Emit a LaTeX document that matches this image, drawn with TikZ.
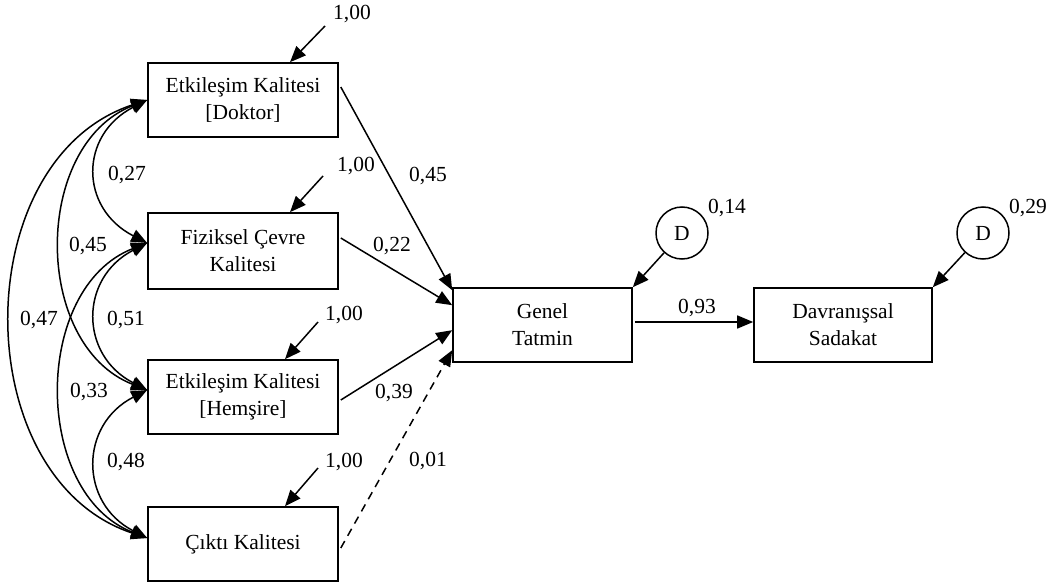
\documentclass[tikz,border=0pt]{standalone}
\usepackage{fontspec}
\setmainfont{Liberation Serif}
\usetikzlibrary{arrows.meta,calc}
\begin{document}
\begin{tikzpicture}[x=1pt,y=-1pt,
  box/.style={draw, line width=1.6pt, rectangle, inner sep=0pt, minimum width=190pt, minimum height=74pt, align=center, font=\fontsize{21.5}{27}\selectfont},
  lab/.style={inner sep=0pt, font=\fontsize{21.5}{27}\selectfont},
  dist/.style={draw, circle, line width=1.5pt, minimum size=52pt, inner sep=0pt, font=\fontsize{21.5}{27}\selectfont},
  arr/.style={line width=1.5pt, -{Triangle[length=16pt,width=13pt]}},
  cov/.style={line width=1.5pt, {Triangle[length=16pt,width=13pt]}-{Triangle[length=16pt,width=13pt]}},
  dsh/.style={arr, dash pattern=on 8pt off 6pt}]
\useasboundingbox (0,0) rectangle (1049,583);

% boxes
\node[box] (b1) at (243,100) {Etkileşim Kalitesi\\{[}Doktor{]}};
\node[box, minimum height=76pt] (b2) at (243,251) {Fiziksel Çevre\\Kalitesi};
\node[box] (b3) at (243,397) {Etkileşim Kalitesi\\{[}Hemşire{]}};
\node[box] (b4) at (243,544) {Çıktı Kalitesi};
\node[box, minimum width=179pt] (g) at (542.5,325) {Genel\\Tatmin};
\node[box, minimum width=178pt] (s) at (843,325) {Davranışsal\\Sadakat};

% disturbances
\node[dist] (d1) at (682,233) {D};
\node[dist] (d2) at (983,233) {D};
\node[lab] (l14) at (727,208) {0,14};
\node[lab] (l29) at (1028,208) {0,29};
\draw[arr] (d1) -- (g.north east);
\draw[arr] (d2) -- (s.north east);

% error arrows
\coordinate (e1) at (325,26);
\coordinate (e2) at (323,176);
\coordinate (e3) at (318,322);
\coordinate (e4) at (318,468);
\draw[arr] (e1) -- ([xshift=47pt]b1.north);
\draw[arr] (e2) -- ([xshift=47pt]b2.north);
\draw[arr] (e3) -- ([xshift=42pt]b3.north);
\draw[arr] (e4) -- ([xshift=42pt]b4.north);
\node[lab] (u1) at (352,14) {1,00};
\node[lab] (u2) at (356,166) {1,00};
\node[lab] (u3) at (344,315) {1,00};
\node[lab] (u4) at (344,462) {1,00};

% structural paths
\draw[arr] ([xshift=2pt,yshift=13pt]b1.east) -- ([yshift=-3pt]g.north west);
\draw[arr] ([xshift=2pt,yshift=13pt]b2.east) -- ([yshift=-18pt]g.north west);
\draw[arr] ([xshift=2pt,yshift=-3pt]b3.east) -- ([yshift=-43pt]g.north west);
\draw[dsh] ([xshift=2pt,yshift=-4pt]b4.east) -- ([yshift=-63pt]g.north west);
\draw[arr] ([xshift=2pt,yshift=3pt]g.east) -- ([yshift=3pt]s.west);
\node[lab] (p1) at (428,176) {0,45};
\node[lab] (p2) at (392,246) {0,22};
\node[lab] (p3) at (394,393) {0,39};
\node[lab] (p4) at (428,461) {0,01};
\node[lab] (p5) at (697,308) {0,93};

% covariances
\coordinate (c1) at (b1.west);
\coordinate (c2) at ([yshift=8pt]b2.west);
\coordinate (c3) at ([yshift=7pt]b3.west);
\coordinate (c4) at ([yshift=6pt]b4.west);
\draw[cov] (c1) .. controls +(-68,35) and +(-68,-35) .. (c2);
\draw[cov] (c2) .. controls +(-68,35) and +(-68,-35) .. (c3);
\draw[cov] (c3) .. controls +(-68,35) and +(-68,-35) .. (c4);
\draw[cov] (c1) .. controls +(-115,45) and +(-115,-45) .. (c3);
\draw[cov] (c2) .. controls +(-115,45) and +(-115,-45) .. (c4);
\draw[cov] (c1) .. controls +(-181,60) and +(-181,-60) .. (c4);
\node[lab] (k1) at (127,175) {0,27};
\node[lab] (k2) at (88,246) {0,45};
\node[lab] (k3) at (39,320) {0,47};
\node[lab] (k4) at (126,320) {0,51};
\node[lab] (k5) at (89,392) {0,33};
\node[lab] (k6) at (126,462) {0,48};
\end{tikzpicture}
\end{document}
